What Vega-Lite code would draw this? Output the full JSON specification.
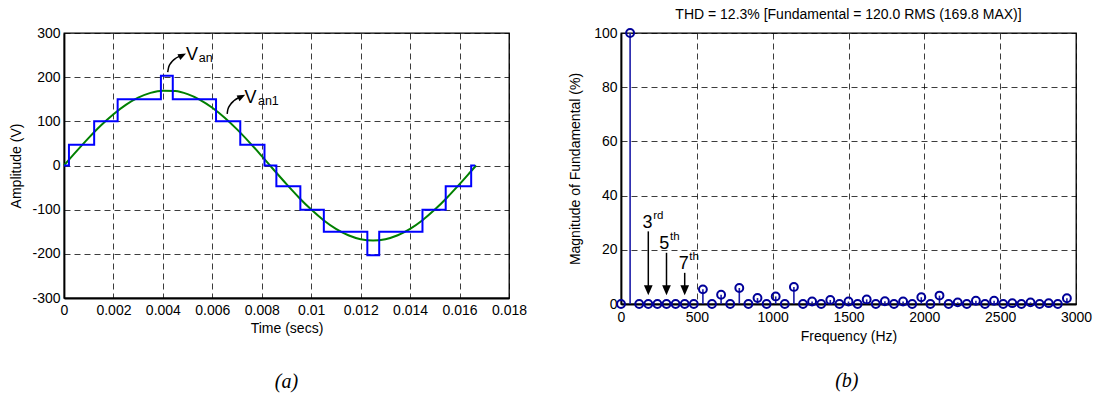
{
  "$schema": "https://vega.github.io/schema/vega-lite/v6.json",
  "padding": {"left": 9, "top": 7, "right": 0, "bottom": 0},
  "bounds": "flush",
  "spacing": 112,
  "config": {
    "font": "Liberation Sans",
    "view": {"stroke": "#000", "strokeWidth": 1.3},
    "axis": {
      "labelFont": "Liberation Sans", "labelFontSize": 14, "labelColor": "#000",
      "titleFont": "Liberation Sans", "titleFontSize": 14, "titleFontWeight": "normal", "titleColor": "#000",
      "domainColor": "#000", "domainWidth": 1.8, "ticks": false,
      "grid": true, "gridColor": "#000", "gridDash": [6, 4], "gridWidth": 0.9, "gridOpacity": 0.85,
      "labelPadding": 4, "labelFlush": false, "labelOverlap": false
    },
    "title": {"font": "Liberation Sans", "fontSize": 14, "fontWeight": "normal", "color": "#000"}
  },
  "datasets": {
    "sine": [
      {"t":0,"v":0},{"t":0.0005,"v":31.8},{"t":0.001,"v":62.5},{"t":0.0015,"v":91.0},{"t":0.002,"v":116.2},{"t":0.0025,"v":137.4},{"t":0.003,"v":153.6},{"t":0.0035,"v":164.5},{"t":0.004,"v":169.5},{"t":0.0045,"v":168.5},{"t":0.005,"v":161.5},{"t":0.0055,"v":148.8},{"t":0.006,"v":130.8},{"t":0.0065,"v":108.2},{"t":0.007,"v":81.8},{"t":0.0075,"v":52.5},{"t":0.008,"v":21.3},{"t":0.0085,"v":-10.7},{"t":0.009,"v":-42.2},{"t":0.0095,"v":-72.3},{"t":0.01,"v":-99.8},{"t":0.0105,"v":-123.8},{"t":0.011,"v":-143.4},{"t":0.0115,"v":-157.9},{"t":0.012,"v":-166.8},{"t":0.0125,"v":-169.8},{"t":0.013,"v":-166.8},{"t":0.0135,"v":-157.9},{"t":0.014,"v":-143.4},{"t":0.0145,"v":-123.8},{"t":0.015,"v":-99.8},{"t":0.0155,"v":-72.3},{"t":0.016,"v":-42.2},{"t":0.0165,"v":-10.7},{"t":0.01667,"v":0}
    ],
    "step": [
      {"t":0,"v":0},{"t":0.0002,"v":47},{"t":0.00122,"v":100},{"t":0.00217,"v":150},{"t":0.00392,"v":203},{"t":0.0044,"v":150},{"t":0.00615,"v":100},{"t":0.00713,"v":47},{"t":0.00811,"v":0},{"t":0.00859,"v":-47},{"t":0.00956,"v":-100},{"t":0.01051,"v":-150},{"t":0.01227,"v":-203},{"t":0.01275,"v":-150},{"t":0.0145,"v":-100},{"t":0.01544,"v":-47},{"t":0.01647,"v":0},{"t":0.01663,"v":0}
    ],
    "arrowsA": [
      {"id":"a1","t":0.004195,"v":211.6},{"id":"a1","t":0.004235,"v":222.9},{"id":"a1","t":0.004331,"v":232.7},{"id":"a1","t":0.004462,"v":240.4},{"id":"a1","t":0.004665,"v":247.2},{"id":"a1","t":0.004791,"v":249.5},
      {"id":"a2","t":0.0066,"v":117.0},{"id":"a2","t":0.006629,"v":127.0},{"id":"a2","t":0.006722,"v":137.4},{"id":"a2","t":0.006872,"v":146.5},{"id":"a2","t":0.007059,"v":153.3},{"id":"a2","t":0.007185,"v":156.0}
    ],
    "headsA": [{"t":0.004791,"v":249.5},{"t":0.007185,"v":156.0}],
    "bigA": [{"t":0.004937,"v":238.8,"s":"V"},{"t":0.0073,"v":141.3,"s":"V"}],
    "subA": [{"t":0.005452,"v":234.2,"s":"an"},{"t":0.007846,"v":136,"s":"an1"}],
    "capA": [{"t":0.009,"v":-491,"s":"(a)"}],
    "spec": [
      {"f":0,"m":0},{"f":60,"m":100},{"f":120,"m":0},{"f":180,"m":0},{"f":240,"m":0},{"f":300,"m":0},{"f":360,"m":0},{"f":420,"m":0},{"f":480,"m":0},{"f":540,"m":5.4},{"f":600,"m":0},{"f":660,"m":3.4},{"f":720,"m":0},{"f":780,"m":5.9},{"f":840,"m":0},{"f":900,"m":2.2},{"f":960,"m":0},{"f":1020,"m":2.8},{"f":1080,"m":0},{"f":1140,"m":6.3},{"f":1200,"m":0},{"f":1260,"m":0.9},{"f":1320,"m":0},{"f":1380,"m":1.5},{"f":1440,"m":0},{"f":1500,"m":0.9},{"f":1560,"m":0},{"f":1620,"m":1.7},{"f":1680,"m":0},{"f":1740,"m":1.0},{"f":1800,"m":0},{"f":1860,"m":0.9},{"f":1920,"m":0},{"f":1980,"m":2.5},{"f":2040,"m":0},{"f":2100,"m":3.1},{"f":2160,"m":0},{"f":2220,"m":0.6},{"f":2280,"m":0},{"f":2340,"m":1.2},{"f":2400,"m":0},{"f":2460,"m":1.2},{"f":2520,"m":0},{"f":2580,"m":0.3},{"f":2640,"m":0},{"f":2700,"m":0.6},{"f":2760,"m":0},{"f":2820,"m":0.3},{"f":2880,"m":0},{"f":2940,"m":2.1}
    ],
    "arrowsB": [{"f":180,"top":26.8,"bot":5.1},{"f":300,"top":18.9,"bot":5.1},{"f":420,"top":11.5,"bot":5.1}],
    "bigB": [{"f":141.8,"m":28.0,"s":"3"},{"f":251.8,"m":20.3,"s":"5"},{"f":380.4,"m":12.9,"s":"7"}],
    "subB": [{"f":212,"m":31.5,"s":"rd"},{"f":322.7,"m":23.7,"s":"th"},{"f":450.6,"m":16.1,"s":"th"}],
    "capB": [{"f":1489,"m":-28.5,"s":"(b)"}]
  },
  "hconcat": [
    {
      "width": 445,
      "height": 265,
      "layer": [
        {
          "data": {"name": "sine"},
          "mark": {"type": "line", "color": "#008000", "strokeWidth": 2, "interpolate": "monotone"},
          "encoding": {
            "x": {"field": "t", "type": "quantitative", "scale": {"domain": [0, 0.018], "nice": false, "zero": false},
                  "axis": {"values": [0, 0.002, 0.004, 0.006, 0.008, 0.01, 0.012, 0.014, 0.016, 0.018], "format": "~g", "title": "Time (secs)", "labelPadding": 5, "titlePadding": 4}},
            "y": {"field": "v", "type": "quantitative", "scale": {"domain": [-300, 300], "nice": false},
                  "axis": {"values": [-300, -200, -100, 0, 100, 200, 300], "labelExpr": "replace(datum.label, '\u2212', '-')", "title": "Amplitude (V)", "titlePadding": 8}}
          }
        },
        {
          "data": {"name": "step"},
          "mark": {"type": "line", "color": "#0000ff", "strokeWidth": 2, "interpolate": "step-after"},
          "encoding": {"x": {"field": "t", "type": "quantitative"}, "y": {"field": "v", "type": "quantitative"}}
        },
        {
          "data": {"name": "arrowsA"},
          "mark": {"type": "line", "color": "#000", "strokeWidth": 1.5, "interpolate": "monotone"},
          "encoding": {"x": {"field": "t", "type": "quantitative"}, "y": {"field": "v", "type": "quantitative"}, "detail": {"field": "id"}}
        },
        {
          "data": {"name": "headsA"},
          "mark": {"type": "point", "shape": "M-1,-0.8L1,0L-1,0.8Z", "filled": true, "color": "#000", "opacity": 1, "size": 64, "angle": 333},
          "encoding": {"x": {"field": "t", "type": "quantitative"}, "y": {"field": "v", "type": "quantitative"}}
        },
        {
          "data": {"name": "bigA"},
          "mark": {"type": "text", "align": "left", "baseline": "alphabetic", "fontSize": 18, "color": "#000"},
          "encoding": {"x": {"field": "t", "type": "quantitative"}, "y": {"field": "v", "type": "quantitative"}, "text": {"field": "s"}}
        },
        {
          "data": {"name": "subA"},
          "mark": {"type": "text", "align": "left", "baseline": "alphabetic", "fontSize": 12.5, "color": "#000"},
          "encoding": {"x": {"field": "t", "type": "quantitative"}, "y": {"field": "v", "type": "quantitative"}, "text": {"field": "s"}}
        },
        {
          "data": {"name": "capA"},
          "mark": {"type": "text", "align": "center", "baseline": "middle", "font": "Liberation Serif", "fontStyle": "italic", "fontSize": 20, "color": "#000"},
          "encoding": {"x": {"field": "t", "type": "quantitative"}, "y": {"field": "v", "type": "quantitative"}, "text": {"field": "s"}}
        }
      ]
    },
    {
      "width": 455,
      "height": 271,
      "title": {"text": "THD = 12.3% [Fundamental = 120.0 RMS (169.8 MAX)]", "offset": 3, "fontSize": 14},
      "layer": [
        {
          "data": {"name": "spec"},
          "mark": {"type": "rule", "color": "#1a1aa8", "strokeWidth": 1.6},
          "encoding": {
            "x": {"field": "f", "type": "quantitative", "scale": {"domain": [0, 3000], "nice": false},
                  "axis": {"values": [0, 500, 1000, 1500, 2000, 2500, 3000], "format": "d", "title": "Frequency (Hz)", "labelPadding": 6, "titlePadding": 5}},
            "y": {"field": "m", "type": "quantitative", "scale": {"domain": [0, 100], "nice": false},
                  "axis": {"values": [0, 20, 40, 60, 80, 100], "title": "Magnitude of Fundamental (%)", "titlePadding": 11}},
            "y2": {"datum": 0}
          }
        },
        {
          "data": {"name": "spec"},
          "mark": {"type": "point", "shape": "circle", "filled": false, "color": "#000099", "strokeWidth": 2, "size": 62, "opacity": 1},
          "encoding": {"x": {"field": "f", "type": "quantitative"}, "y": {"field": "m", "type": "quantitative"}}
        },
        {
          "data": {"name": "arrowsB"},
          "mark": {"type": "rule", "color": "#000", "strokeWidth": 1.5},
          "encoding": {"x": {"field": "f", "type": "quantitative"}, "y": {"field": "top", "type": "quantitative"}, "y2": {"field": "bot"}}
        },
        {
          "data": {"name": "arrowsB"},
          "mark": {"type": "point", "shape": "M-0.87,-1L0.87,-1L0,1Z", "filled": true, "color": "#000", "opacity": 1, "size": 100},
          "encoding": {"x": {"field": "f", "type": "quantitative"}, "y": {"field": "bot", "type": "quantitative"}}
        },
        {
          "data": {"name": "bigB"},
          "mark": {"type": "text", "align": "left", "baseline": "alphabetic", "fontSize": 18, "color": "#000"},
          "encoding": {"x": {"field": "f", "type": "quantitative"}, "y": {"field": "m", "type": "quantitative"}, "text": {"field": "s"}}
        },
        {
          "data": {"name": "subB"},
          "mark": {"type": "text", "align": "left", "baseline": "alphabetic", "fontSize": 11.5, "color": "#000"},
          "encoding": {"x": {"field": "f", "type": "quantitative"}, "y": {"field": "m", "type": "quantitative"}, "text": {"field": "s"}}
        },
        {
          "data": {"name": "capB"},
          "mark": {"type": "text", "align": "center", "baseline": "middle", "font": "Liberation Serif", "fontStyle": "italic", "fontSize": 20, "color": "#000"},
          "encoding": {"x": {"field": "f", "type": "quantitative"}, "y": {"field": "m", "type": "quantitative"}, "text": {"field": "s"}}
        }
      ]
    }
  ]
}
